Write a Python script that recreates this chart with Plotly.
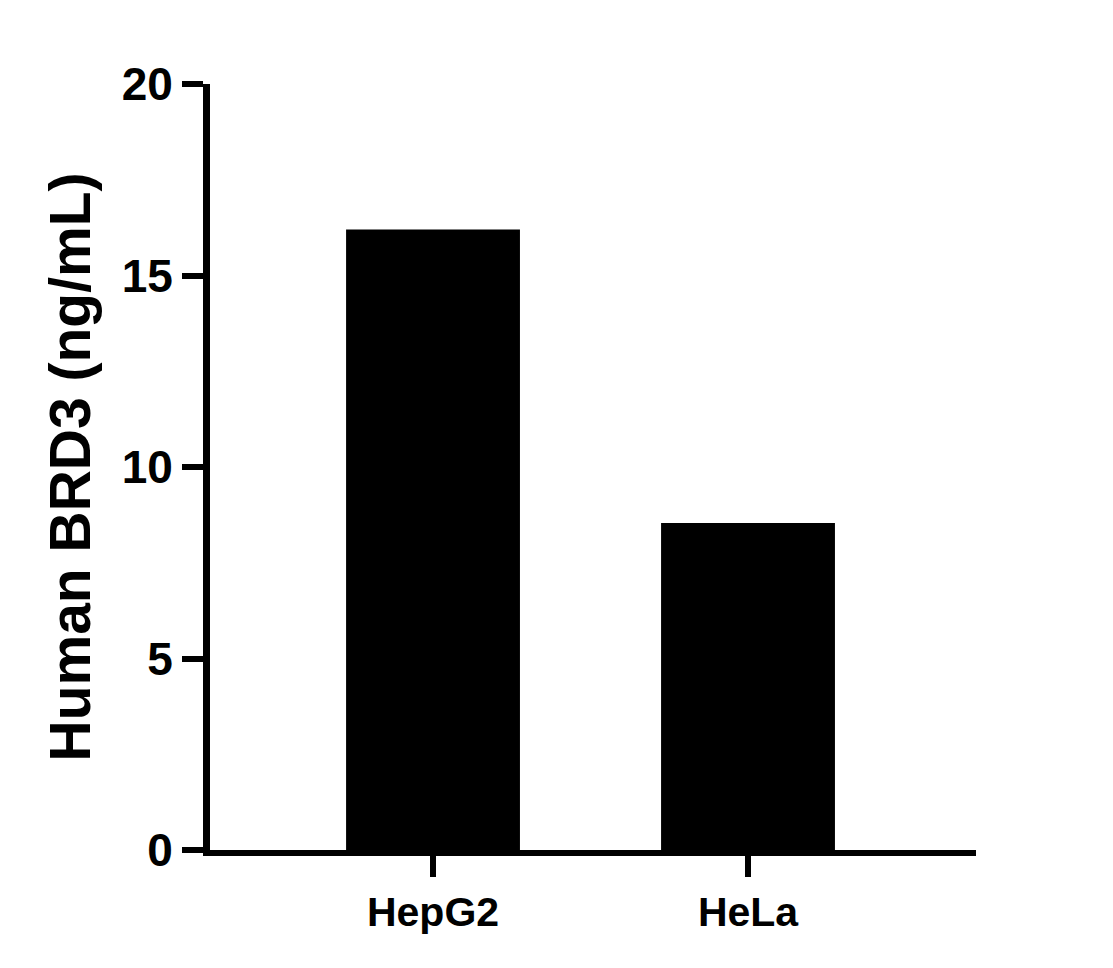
import plotly.graph_objects as go

categories = ["HepG2", "HeLa"]
values = [16.2, 8.54]
y_ticks = [0, 5, 10, 15, 20]

fig = go.Figure()
fig.add_trace(go.Bar(
    x=list(range(len(categories))),
    y=values,
    width=0.552,
    marker=dict(color="black", line=dict(width=0)),
))

font_family = "Liberation Sans, Arial, sans-serif"

fig.update_layout(
    width=1113, height=968,
    margin=dict(l=202, r=145, t=76, b=126, autoexpand=False),
    plot_bgcolor="white", paper_bgcolor="white",
    showlegend=False,
    font=dict(family=font_family, color="black"),
    xaxis=dict(
        range=[-0.708, 1.7238],
        tickmode="array",
        tickvals=list(range(len(categories))),
        ticktext=[f"<b>{c}</b>" for c in categories],
        showline=True, linecolor="black", linewidth=6,
        ticks="outside", ticklen=21, tickwidth=6, tickcolor="black",
        tickfont=dict(size=41, family=font_family, color="black"),
        showgrid=False, zeroline=False,
    ),
    yaxis=dict(
        range=[0, 20],
        tickmode="array",
        tickvals=y_ticks,
        ticktext=[f"<b>{t}</b>" for t in y_ticks],
        showline=True, linecolor="black", linewidth=7,
        ticks="outside", ticklen=21, tickwidth=6, tickcolor="black",
        tickfont=dict(size=46, family=font_family, color="black"),
        showgrid=False, zeroline=False,
        title=dict(text="<b>Human BRD3 (ng/mL)</b>",
                   font=dict(size=57, family=font_family, color="black"),
                   standoff=15),
    ),
)

fig.write_html("out.html")
